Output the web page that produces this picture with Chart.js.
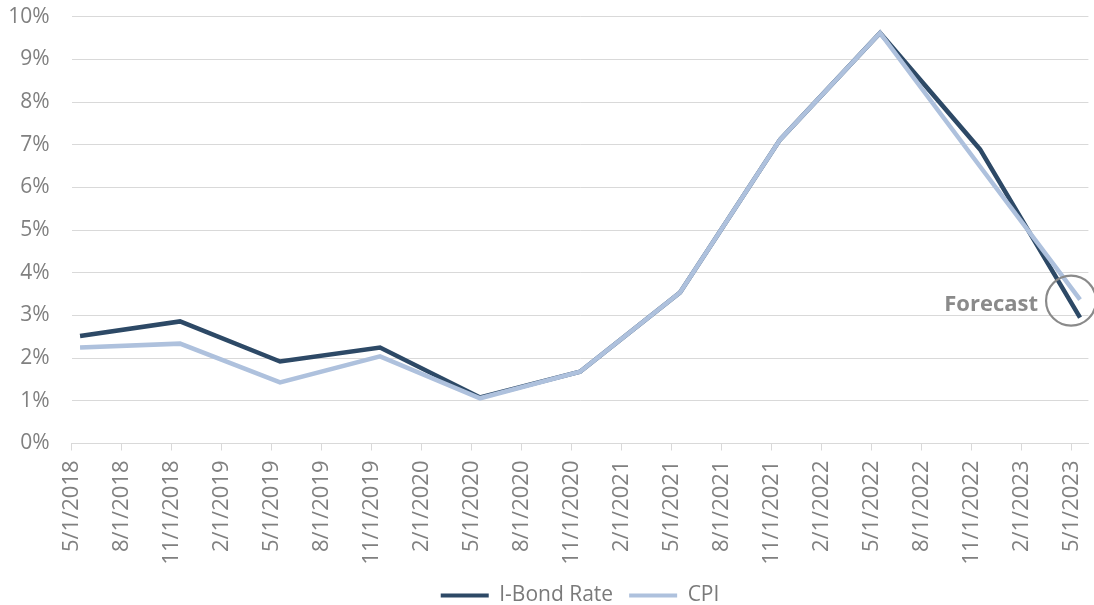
<!DOCTYPE html>
<html>
<head>
<meta charset="utf-8">
<script src="https://cdn.jsdelivr.net/npm/chart.js@4.4.0/dist/chart.umd.min.js"></script>
<style>
  html, body { margin: 0; padding: 0; background: #ffffff; }
  #wrap { width: 1094px; height: 605px; position: relative; }
</style>
</head>
<body>
<div id="wrap"><canvas id="c" width="1094" height="605"></canvas></div>
<script>
// ---- data ----
const tickLabels = ['5/1/2018','8/1/2018','11/1/2018','2/1/2019','5/1/2019','8/1/2019','11/1/2019',
  '2/1/2020','5/1/2020','8/1/2020','11/1/2020','2/1/2021','5/1/2021','8/1/2021','11/1/2021',
  '2/1/2022','5/1/2022','8/1/2022','11/1/2022','2/1/2023','5/1/2023'];
const dates = ['5/1/2018','11/1/2018','5/1/2019','11/1/2019','5/1/2020','11/1/2020',
  '5/1/2021','11/1/2021','5/1/2022','11/1/2022','5/1/2023'];
const iBondRate = [2.52, 2.86, 1.92, 2.25, 1.08, 1.68, 3.54, 7.12, 9.62, 6.89, 2.95];
const cpi       = [2.25, 2.34, 1.43, 2.04, 1.06, 1.68, 3.54, 7.12, 9.62, 6.49, 3.37];
const seriesNames = ['I-Bond Rate', 'CPI'];
const forecastLabel = 'Forecast';

// month position on a monthly date axis (point sits mid-month)
function monthPos(d) {
  const p = d.split('/').map(Number);
  return (p[2] - 2018) * 12 + (p[0] - 5) + 0.5;
}
const toPoints = vals => dates.map((d, i) => ({ x: monthPos(d), y: vals[i] }));

const GRID = '#d9d9d9';
const TXT = '#808080';
const FONT = '"Open Sans", Lato, sans-serif';

const forecastPlugin = {
  id: 'forecast',
  afterDatasetsDraw(chart) {
    const ib = chart.getDatasetMeta(0).data;
    const cp = chart.getDatasetMeta(1).data;
    const pIb = ib[ib.length - 1], pCp = cp[cp.length - 1];
    const cx = pIb.x - 9, cy = pCp.y + 1;
    const ctx = chart.ctx;
    ctx.save();
    ctx.strokeStyle = '#8a8a8a';
    ctx.lineWidth = 2.2;
    ctx.beginPath();
    ctx.arc(cx, cy, 25, 0, Math.PI * 2);
    ctx.stroke();
    ctx.fillStyle = '#8a8a8a';
    ctx.font = 'bold 22px "Open Sans", sans-serif';
    ctx.textAlign = 'right';
    ctx.textBaseline = 'alphabetic';
    ctx.fillText(forecastLabel, cx - 33, cy + 10);
    ctx.restore();
  }
};

new Chart(document.getElementById('c'), {
  type: 'line',
  data: {
    datasets: [
      { label: seriesNames[0], data: toPoints(iBondRate), borderColor: '#2d4966', backgroundColor: '#2d4966',
        borderWidth: 4.5, pointRadius: 0, tension: 0, order: 1 },
      { label: seriesNames[1], data: toPoints(cpi), borderColor: '#aec1dd', backgroundColor: '#aec1dd',
        borderWidth: 4.5, pointRadius: 0, tension: 0, order: 0 }
    ]
  },
  options: {
    responsive: false,
    animation: false,
    events: [],
    layout: { autoPadding: false, padding: { top: 16.7, right: 5.6, left: 0, bottom: -11 } },
    scales: {
      x: {
        type: 'linear',
        min: 0, max: 61,
        afterFit(s) { s.height = 125.5; s.paddingLeft = 0; s.paddingRight = 0; },
        border: { display: true, color: GRID, width: 1 },
        grid: { drawOnChartArea: false, drawTicks: true, tickLength: 7, color: GRID },
        ticks: {
          stepSize: 3, includeBounds: false, autoSkip: false,
          minRotation: 90, maxRotation: 90, padding: 10,
          color: TXT, font: { family: FONT, size: 22 },
          callback: v => tickLabels[Math.round(v / 3)]
        }
      },
      y: {
        min: 0, max: 10,
        afterFit(s) { s.width = 71.7; s.paddingTop = 0; s.paddingBottom = 0; },
        border: { display: false },
        grid: { color: GRID, drawTicks: false, lineWidth: 1 },
        ticks: {
          stepSize: 1, padding: 22,
          color: TXT, font: { family: FONT, size: 21 },
          callback: v => v + '%'
        }
      }
    },
    plugins: {
      tooltip: { enabled: false },
      legend: {
        position: 'bottom',
        fullSize: false,
        labels: {
          color: '#7a7a7a',
          font: { family: FONT, size: 21 },
          boxWidth: 48, boxHeight: 4, padding: 16,
          sort: (a, b) => a.datasetIndex - b.datasetIndex,
          generateLabels(chart) {
            return Chart.defaults.plugins.legend.labels.generateLabels(chart)
              .map(l => Object.assign(l, { lineWidth: 0 }));
          }
        }
      }
    }
  },
  plugins: [forecastPlugin]
});
</script>
</body>
</html>
